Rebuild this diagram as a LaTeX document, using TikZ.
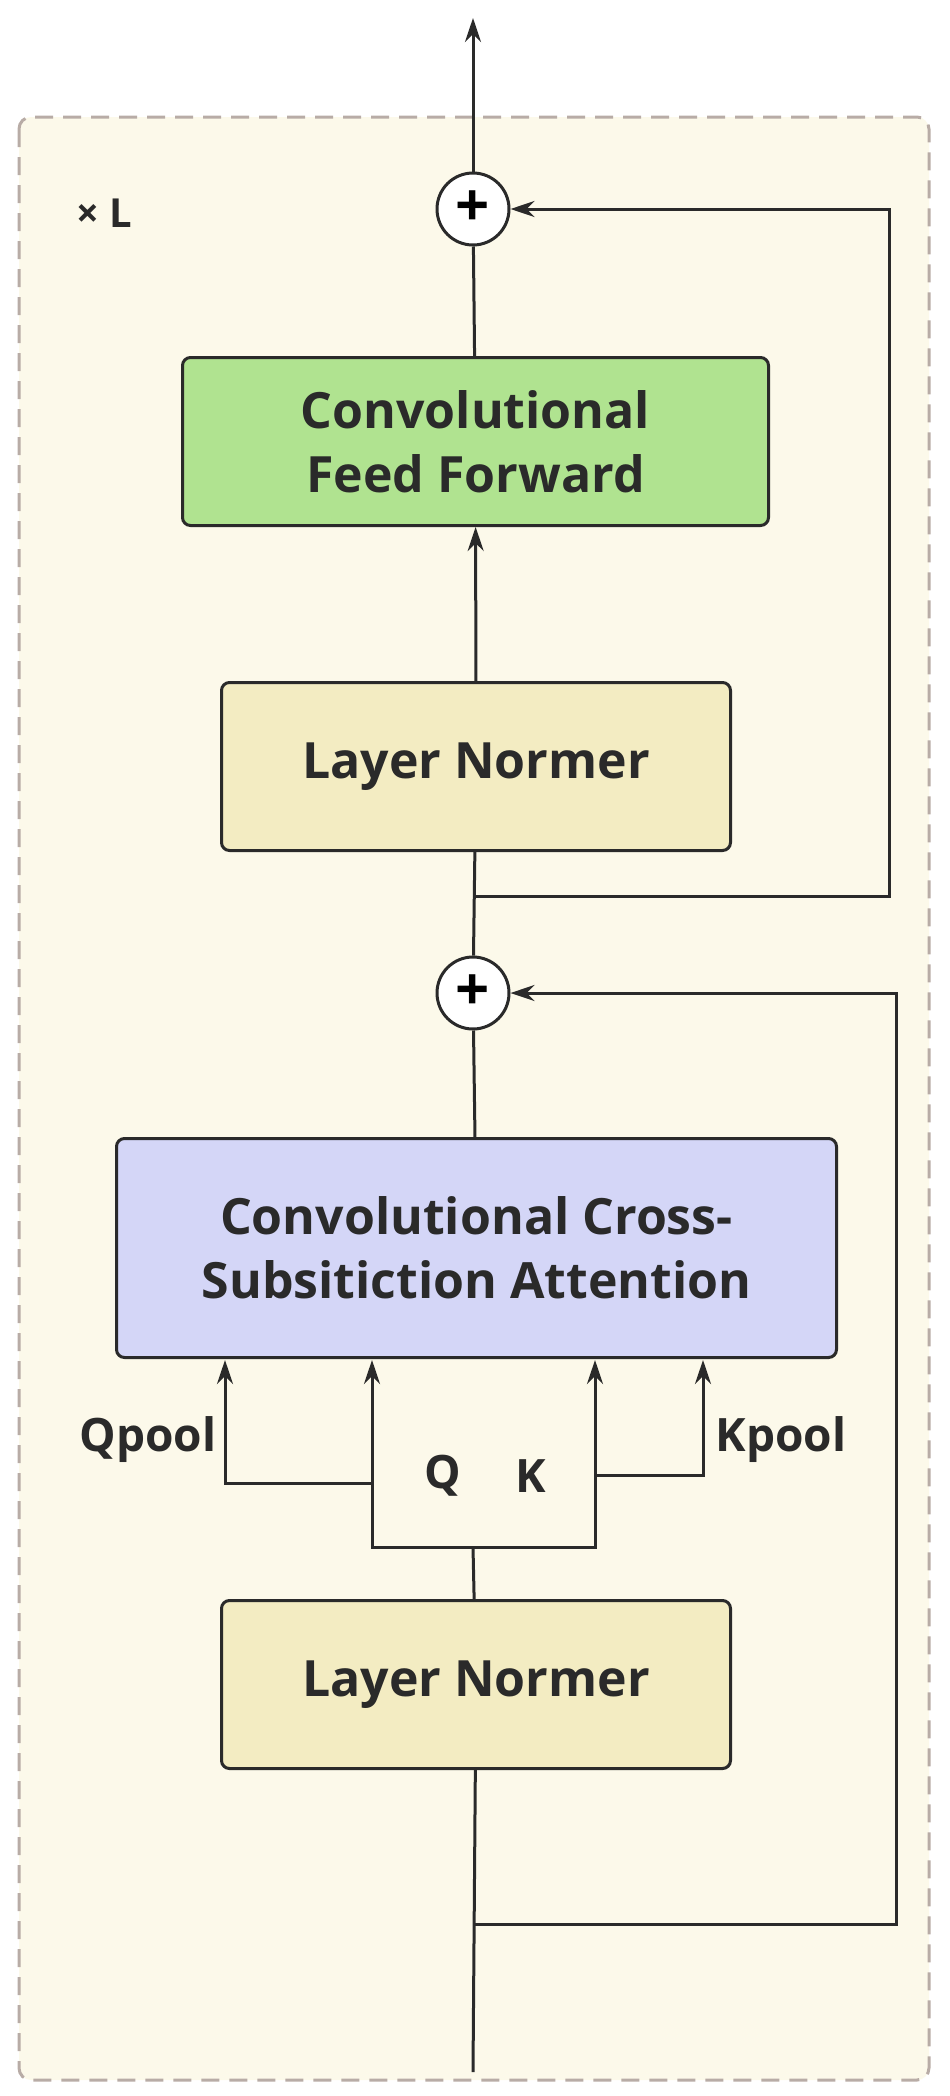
\documentclass[tikz,border=0pt]{standalone}
\usepackage{fontspec}
\setmainfont{Open Sans}
\usetikzlibrary{arrows.meta}
\definecolor{bgc}{HTML}{FCF9EA}
\definecolor{dashc}{HTML}{B8ACA6}
\definecolor{ffc}{HTML}{B0E390}
\definecolor{lnc}{HTML}{F3ECC2}
\definecolor{atc}{HTML}{D4D6F7}
\definecolor{ink}{HTML}{2A2A2A}
\begin{document}
\begin{tikzpicture}[x=1pt,y=-1pt,
  box/.style={draw=ink,line width=3pt,rounded corners=8pt,anchor=north west,inner sep=0pt,align=center,font=\fontsize{50}{64}\selectfont\bfseries,text=ink},
  plus/.style={draw=ink,fill=white,line width=3pt,circle,minimum size=72pt,inner sep=0pt},
  ln/.style={draw=ink,line width=3pt},
  arr/.style={ln,-{Stealth[length=24pt,width=16pt]}},
  lab/.style={font=\fontsize{46}{50}\selectfont\bfseries,text=ink}]
\useasboundingbox (0,0) rectangle (950,2096);
\draw[dashc,fill=bgc,line width=3pt,dash pattern=on 18pt off 10pt,rounded corners=12pt] (19,117) rectangle (929,2080);
\node[lab,font=\fontsize{40}{44}\selectfont\bfseries] (xl) at (104,213) {× L};
\node[plus] (p1) at (473,209) {\fontsize{60}{60}\selectfont\bfseries +};
\node[box,fill=ffc,minimum width=586pt,minimum height=168pt] (ff) at (181,356) {Convolutional\\Feed Forward};
\node[box,fill=lnc,minimum width=509pt,minimum height=168pt] (ln1) at (220,681) {Layer Normer};
\node[plus] (p2) at (473,993) {\fontsize{60}{60}\selectfont\bfseries +};
\node[box,fill=atc,minimum width=720pt,minimum height=219pt] (att) at (115,1137) {Convolutional Cross-\\Subsitiction Attention};
\node[box,fill=lnc,minimum width=509pt,minimum height=168pt] (ln2) at (220,1599) {Layer Normer};
\coordinate (top) at (473,18);
\coordinate (bot) at (473,2072);
\coordinate (b1) at (473,896);
\coordinate (b2) at (473,1924);
\coordinate (fork) at (473,1547);
\draw[arr] (p1) -- (top);
\draw[ln] (ff) -- (p1);
\draw[arr] (ln1) -- (ff);
\draw[ln] (p2) -- (ln1);
\draw[arr] (b1) -- (889,896) -- (889,209) -- (p1);
\draw[ln] (att) -- (p2);
\draw[arr] (b2) -- (896,1924) -- (896,993) -- (p2);
\draw[ln] (bot) -- (ln2);
\draw[ln] (ln2) -- (fork);
\draw[arr] (fork) -- (372,1547) -- (372,1360);
\draw[arr] (fork) -- (595,1547) -- (595,1360);
\draw[arr] (372,1483) -- (225,1483) -- (225,1360);
\draw[arr] (595,1475) -- (703,1475) -- (703,1360);
\node[lab] (q) at (443,1476) {Q};
\node[lab] (k) at (531,1476) {K};
\node[lab,anchor=east] (qp) at (220,1440) {Qpool};
\node[lab,anchor=west] (kp) at (712,1440) {Kpool};
\end{tikzpicture}
\end{document}
